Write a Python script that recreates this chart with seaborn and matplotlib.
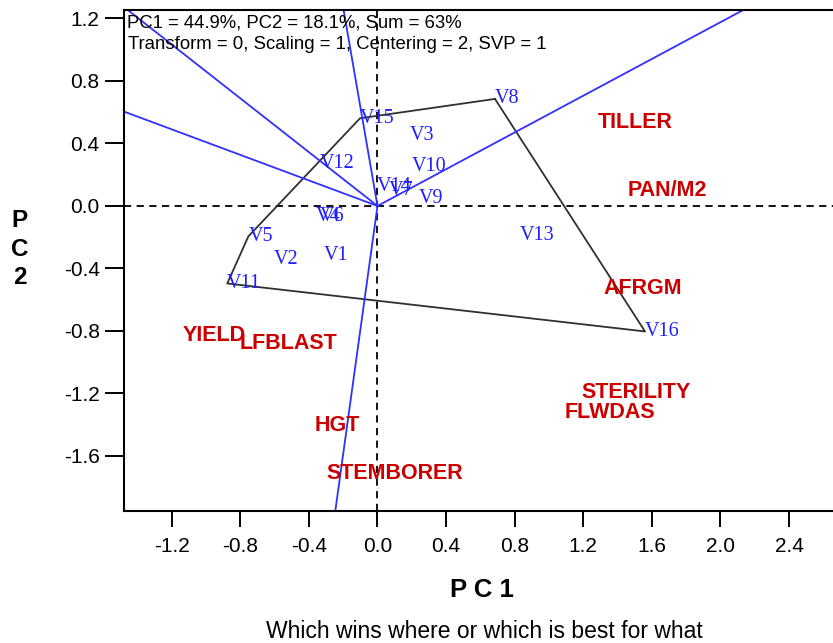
import matplotlib
matplotlib.use("Agg")
import matplotlib.pyplot as plt
import seaborn as sns
import numpy as np
import pandas as pd

# ---- data ----
genotypes = ["V1", "V2", "V3", "V4", "V5", "V6", "V7", "V8", "V9", "V10",
             "V11", "V12", "V13", "V14", "V15", "V16"]
geno_pc1 = [-0.312, -0.603, 0.190, -0.359, -0.753, -0.335, 0.067, 0.685, 0.238, 0.199,
            -0.876, -0.335, 0.831, -0.003, -0.102, 1.560]
geno_pc2 = [-0.314, -0.341, 0.454, -0.068, -0.195, -0.068, 0.096, 0.685, 0.049, 0.252,
            -0.496, 0.273, -0.186, 0.124, 0.561, -0.803]

traits = ["YIELD", "LFBLAST", "HGT", "STEMBORER", "AFRGM", "STERILITY", "FLWDAS",
          "TILLER", "PAN/M2"]
trait_pc1 = [-1.136, -0.802, -0.364, -0.296, 1.317, 1.191, 1.093, 1.287, 1.459]
trait_pc2 = [-0.832, -0.879, -1.408, -1.715, -0.527, -1.195, -1.320, 0.533, 0.102]

hull_order = ["V8", "V16", "V11", "V5", "V15"]

x_ticks = [-1.2, -0.8, -0.4, 0.0, 0.4, 0.8, 1.2, 1.6, 2.0, 2.4]
y_ticks = [-1.6, -1.2, -0.8, -0.4, 0.0, 0.4, 0.8, 1.2]

header1 = "PC1 = 44.9%, PC2 = 18.1%, Sum = 63%"
header2 = "Transform = 0, Scaling = 1, Centering = 2, SVP = 1"
subtitle = "Which wins where or which is best for what"

# ---- styling ----
sns.set_theme(style="ticks")
plt.rcParams["font.family"] = ["Liberation Sans", "DejaVu Sans"]

W, H = 833, 643
fig = plt.figure(figsize=(W / 100, H / 100), dpi=100)
ax_l, ax_r, ax_t, ax_b = 124, 833, 10, 511
ax = fig.add_axes([ax_l / W, (H - ax_b) / H, (ax_r - ax_l) / W, (ax_b - ax_t) / H])

ax.set_xlim(-1.478, 2.656)
ax.set_ylim(-1.952, 1.254)

blue_line = "#3030FF"
blue_text = "#2020FF"
red_text = "#CC0000"

geno = pd.DataFrame({"name": genotypes, "PC1": geno_pc1, "PC2": geno_pc2})
tr = pd.DataFrame({"name": traits, "PC1": trait_pc1, "PC2": trait_pc2})

# zero reference lines
ax.axhline(0, color="black", lw=1.3, ls=(0, (4, 3)), zorder=1)
ax.axvline(0, color="black", lw=1.3, ls=(0, (4, 3)), zorder=1)

# polygon (convex hull of winning genotypes)
hull = geno.set_index("name").loc[hull_order + [hull_order[0]]].reset_index()
sns.lineplot(data=hull, x="PC1", y="PC2", sort=False, estimator=None,
             color="#303030", lw=1.3, ax=ax, zorder=2)

# rays from origin perpendicular to each polygon side
pts = hull[["PC1", "PC2"]].to_numpy()
for a, b in zip(pts[:-1], pts[1:]):
    d = b - a
    n = np.array([-d[1], d[0]])
    n = n / np.linalg.norm(n)
    if np.dot(n, a) < 0:
        n = -n
    ray = pd.DataFrame({"PC1": [0.0, n[0] * 10], "PC2": [0.0, n[1] * 10]})
    sns.lineplot(data=ray, x="PC1", y="PC2", sort=False, estimator=None,
                 color=blue_line, lw=1.3, ax=ax, zorder=2)

# genotype labels
for _, r in geno.iterrows():
    ax.text(r.PC1, r.PC2, r["name"], color=blue_text, fontsize=14.5,
            family=["Liberation Serif", "DejaVu Serif"], ha="left", va="center",
            zorder=3)

# trait labels
for _, r in tr.iterrows():
    ax.text(r.PC1, r.PC2, r["name"], color=red_text, fontsize=15.5,
            fontweight="bold", ha="left", va="center", zorder=3)

# axes cosmetics
ax.set_xticks(x_ticks)
ax.set_yticks(y_ticks)
ax.set_xticklabels([f"{v:.1f}" for v in x_ticks])
ax.set_yticklabels([f"{v:.1f}" for v in y_ticks])
ax.tick_params(axis="x", direction="out", length=11.5, width=1.4, pad=7,
               labelsize=15, colors="black")
ax.tick_params(axis="y", direction="out", length=13.5, width=1.4, pad=4,
               labelsize=15, colors="black")
for s in ["left", "bottom", "top"]:
    ax.spines[s].set_linewidth(1.5)
    ax.spines[s].set_color("black")
ax.spines["right"].set_visible(False)

ax.set_xlabel("P C 1", fontsize=18.5, fontweight="bold", color="black")
ax.xaxis.label.set_va("center")
ax.xaxis.set_label_coords((481.7 - ax_l) / (ax_r - ax_l), (ax_b - 590.3) / (ax_b - ax_t))
ax.set_ylabel("P\nC\n2", fontsize=17.5, fontweight="bold", color="black",
              rotation=0, linespacing=1.3)
ax.yaxis.label.set_va("center")
ax.yaxis.label.set_ha("center")
ax.yaxis.set_label_coords((19.5 - ax_l) / (ax_r - ax_l), (ax_b - 249) / (ax_b - ax_t))

fig.text(127 / W, (H - 22.7) / H, header1, fontsize=13.3, ha="left", va="center",
         color="black")
fig.text(128 / W, (H - 44.3) / H, header2, fontsize=13.4, ha="left", va="center",
         color="black")
fig.text(484 / W, (H - 631.7) / H, subtitle, fontsize=16.5, ha="center", va="center",
         color="black")

fig.savefig("out.png", dpi=100, facecolor="white")
